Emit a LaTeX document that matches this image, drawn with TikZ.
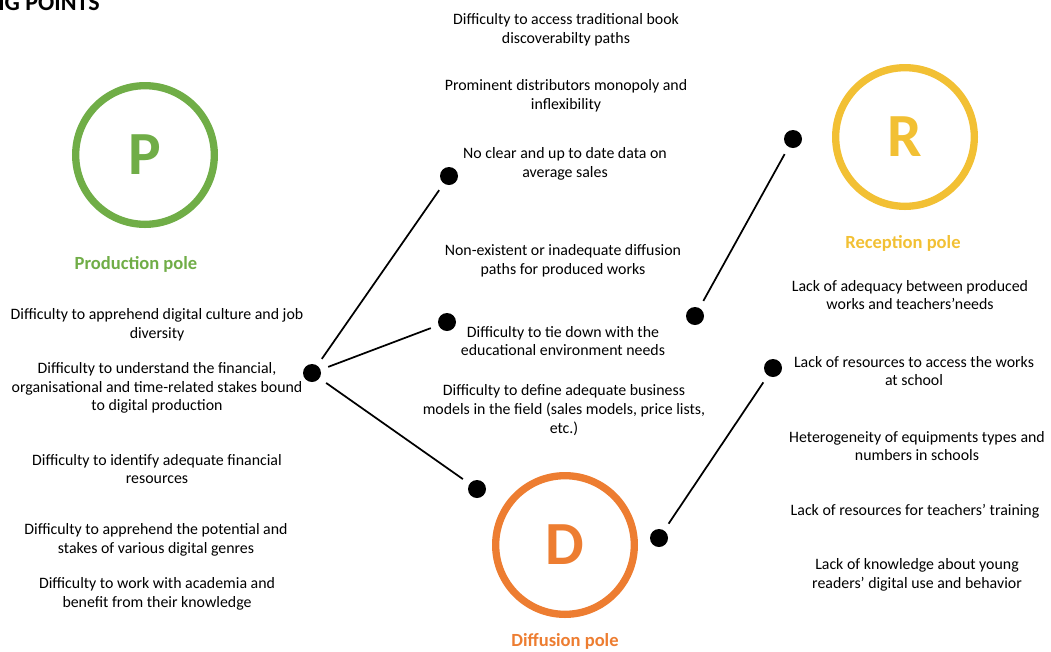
\documentclass[tikz,border=0pt]{standalone}
\usepackage{fontspec}
\setmainfont{Carlito}
\definecolor{pgreen}{RGB}{112,173,71}
\definecolor{ryellow}{RGB}{242,192,52}
\definecolor{dorange}{RGB}{237,125,49}
\begin{document}
\begin{tikzpicture}[x=0.75pt,y=-0.75pt,
  txt/.style={align=center,font=\fontsize{11.9}{14.1}\selectfont,inner sep=0pt},
  dot/.style={circle,fill=black,inner sep=0pt,minimum size=13.5pt},
  ring/.style={circle,draw=#1,line width=5.5pt,minimum size=104pt,inner sep=0pt,text=#1,font=\fontsize{46}{46}\selectfont\bfseries},
  polelbl/.style={text=#1,font=\fontsize{13.9}{15}\selectfont\bfseries,inner sep=0pt},
  link/.style={line width=1.3pt,shorten <=6pt,shorten >=6pt}]
\useasboundingbox (0,0) rectangle (1051,651);
\node[anchor=base west,inner sep=0pt,font=\fontsize{18}{19}\selectfont\bfseries] (title) at (-2,10) {IG POINTS};

% poles
\node[ring=pgreen] (P) at (145,155) {P};
\node[ring=ryellow] (R) at (905,137) {R};
\node[ring=dorange] (D) at (565,545) {D};
\node[polelbl=pgreen] (Pl) at (136,264) {Production pole};
\node[polelbl=ryellow] (Rl) at (903,243) {Reception pole};
\node[polelbl=dorange] (Dl) at (565,641) {Diffusion pole};

% dots
\node[dot] (hub) at (312,373) {};
\node[dot] (d1) at (449,176) {};
\node[dot] (d2) at (447,322) {};
\node[dot] (d3) at (477,489) {};
\node[dot] (d4) at (793,139) {};
\node[dot] (d5) at (695,316) {};
\node[dot] (d6) at (773,368) {};
\node[dot] (d7) at (659,538) {};

\draw[link] (hub) -- (d1);
\draw[link] (hub) -- (d2);
\draw[link] (hub) -- (d3);
\draw[link] (d5) -- (d4);
\draw[link] (d7) -- (d6);

% middle texts
\node[txt] (m1) at (566,30) {Difficulty to access traditional book\\discoverabilty paths};
\node[txt] (m2) at (566,96) {Prominent distributors monopoly and\\inflexibility};
\node[txt] (m3) at (565,164) {No clear and up to date data on\\average sales};
\node[txt] (m4) at (563,261) {Non-existent or inadequate diffusion\\paths for produced works};
\node[txt] (m5) at (563,341) {Difficulty to tie down with the\\educational environment needs};
\node[txt] (m6) at (564,410) {Difficulty to define adequate business\\models in the field (sales models, price lists,\\etc.)};

% left texts
\node[txt] (l1) at (157,325) {Difficulty to apprehend digital culture and job\\diversity};
\node[txt] (l2) at (157,388) {Difficulty to understand the financial,\\organisational and time-related stakes bound\\to digital production};
\node[txt] (l3) at (157,469) {Difficulty to identify adequate financial\\resources};
\node[txt] (l4) at (156,540) {Difficulty to apprehend the potential and\\stakes of various digital genres};
\node[txt] (l5) at (157,594) {Difficulty to work with academia and\\benefit from their knowledge};

% right texts
\node[txt] (r1) at (910,295) {Lack of adequacy between produced\\works and teachers’needs};
\node[txt] (r2) at (914,371) {Lack of resources to access the works\\at school};
\node[txt] (r3) at (917,446) {Heterogeneity of equipments types and\\numbers in schools};
\node[txt] (r4) at (915,511) {Lack of resources for teachers’ training};
\node[txt] (r5) at (917,575) {Lack of knowledge about young\\readers’ digital use and behavior};
\end{tikzpicture}
\end{document}
